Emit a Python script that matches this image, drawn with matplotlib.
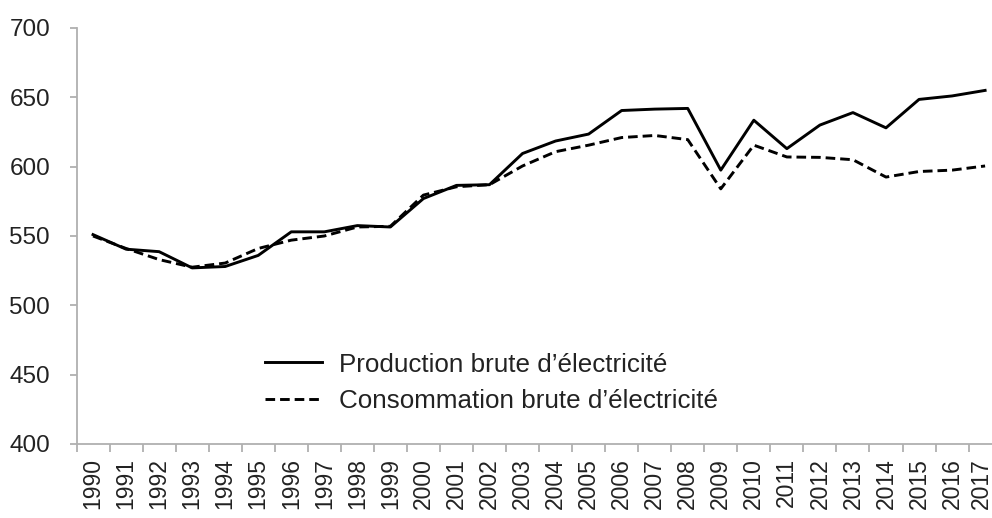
import matplotlib
matplotlib.use("Agg")
import matplotlib.pyplot as plt
import matplotlib.transforms as mtransforms
import numpy as np

years = list(range(1990, 2018))
production = [551, 540.5, 538.7, 527, 528, 536, 553, 553, 557.5, 556.5,
              577, 586.5, 587, 609.5, 618.5, 623.5, 640.5, 641.5, 642, 597.5,
              633.5, 613, 630, 639, 628, 648.5, 651, 655]
consommation = [550, 541, 533, 527.5, 530.5, 541, 547, 550, 556.5, 557,
                579.5, 585.5, 587, 600.5, 610.8, 615.5, 621, 622.5, 619.5, 584,
                615.5, 607, 606.7, 605, 592.5, 596.5, 597.5, 600.5]
labels = ["Production brute d\u2019\u00e9lectricit\u00e9",
          "Consommation brute d\u2019\u00e9lectricit\u00e9"]
yticks = [400, 450, 500, 550, 600, 650, 700]

plt.rcParams['font.family'] = ['Liberation Sans', 'DejaVu Sans']
W, H = 992, 518
fig = plt.figure(figsize=(W/100, H/100), dpi=100)
left = 76.5 / W
bottom = 1 - 444 / H
top = 1 - 28 / H
step = 33.04
width = 28 * step / W
ax = fig.add_axes([left, bottom, width, top - bottom])

x = np.arange(len(years))
ax.plot(x, production, color='black', lw=2.1, label=labels[0])
ax.plot(x, consommation, color='black', lw=2.1, linestyle=(0, (3.3, 1.7)), label=labels[1])

ax.set_xlim(-0.5, len(years) - 0.5)
ax.set_ylim(400, 700)
ax.set_yticks(yticks)
ax.set_yticklabels([str(v) for v in yticks])

ax.set_xticks(np.arange(-0.5, len(years), 1.0))
ax.set_xticklabels([])
ax.set_xticks(x, minor=True)
ax.set_xticklabels([str(y) for y in years], minor=True, rotation=90)

grey = '#b0b0b0'
for s in ['top', 'right']:
    ax.spines[s].set_visible(False)
for s in ['left', 'bottom']:
    ax.spines[s].set_color(grey)
    ax.spines[s].set_linewidth(1.3)
ax.tick_params(axis='y', which='major', length=5, width=1.3, color=grey,
               pad=14, labelsize=17.5, labelcolor='#222222')
ax.tick_params(axis='x', which='major', length=6, width=1.3, color=grey)
ax.tick_params(axis='x', which='minor', length=0, pad=10, labelsize=16.5, labelcolor='#222222')

# nudge the last year label slightly left so it stays inside the picture
last = ax.get_xticklabels(minor=True)[-1]
last.set_transform(last.get_transform() + mtransforms.ScaledTranslation(-4/100, 0, fig.dpi_scale_trans))

leg = ax.legend(loc='center left',
                bbox_to_anchor=((265 - 76.5) / (28 * step), (444 - 383) / 416),
                frameon=False, fontsize=18.7, handlelength=2.2, handletextpad=0.65,
                labelspacing=0.5, borderaxespad=0, borderpad=0)
for t in leg.get_texts():
    t.set_color('#222222')

fig.savefig('out.png', dpi=100)
